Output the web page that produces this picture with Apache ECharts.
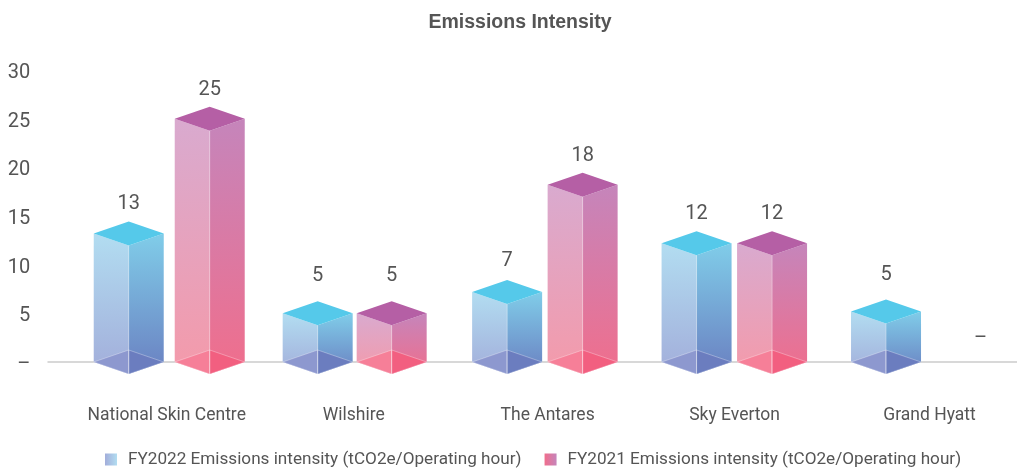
<!DOCTYPE html>
<html><head><meta charset="utf-8">
<style>html,body{margin:0;padding:0;background:#fff}#c{width:1017px;height:472px}</style>
<script src="https://cdn.jsdelivr.net/npm/echarts@6/dist/echarts.min.js"></script>
</head><body><div id="c"></div>
<script>
const title = 'Emissions Intensity';
const categories = ['National Skin Centre', 'Wilshire', 'The Antares', 'Sky Everton', 'Grand Hyatt'];
const fy2022Name = 'FY2022 Emissions intensity (tCO2e/Operating hour)';
const fy2021Name = 'FY2021 Emissions intensity (tCO2e/Operating hour)';
const fy2022 = [13.2, 5, 7.2, 12.2, 5.2];
const fy2021 = [25, 5, 18.2, 12.2, null];

const FONT = 'Roboto,"Liberation Sans",sans-serif';
const TEXT = '#555555';
const halfW = 35, halfH = 12;
// horizontal placement of each series' prism relative to the band centre, per category
const shiftA = [-38, -38, -37.5, -37, -36.5];
const shiftB = [43, 36, 38, 38.5, 58];
// distance of the value label above the prism's side corner
const liftA = [30, 37, 31, 29, 36];
const liftB = [29, 37, 29, 29, 23];
// horizontal nudge of the category labels from the band centre
const labelNudge = [0, -2, 3, 1, 7];

const paletteA = {tl:'#B2DDF1',bl:'#A2ADDA',tr:'#80CDE9',br:'#6A80C1',top:'#55C9EA',fl:'#8D98CF',fr:'#6B7DBF'};
const paletteB = {tl:'#D9AACF',bl:'#F49AAA',tr:'#C585BB',br:'#F06E8C',top:'#B55FA5',fl:'#F67F98',fr:'#F25F80'};

function vgrad(a,b){return {type:'linear',x:0,y:0,x2:0,y2:1,colorStops:[{offset:0,color:a},{offset:1,color:b}]};}
function hgrad(a,b){return {type:'linear',x:0,y:0,x2:1,y2:0,colorStops:[{offset:0,color:a},{offset:1,color:b}]};}

function prism(values, shifts, lifts, pal){
  return function(params, api){
    const i = api.value(0), raw = values[i];
    const base = api.coord([i, 0]);
    const cx = base[0] + shifts[i], y0 = base[1];
    const yv = api.coord([i, raw == null ? 0 : raw])[1];
    const line = {stroke:'rgba(255,255,255,0.45)', lineWidth:0.7};
    const kids = [];
    if (raw != null) {
      kids.push(
        {type:'polygon',shape:{points:[[cx-halfW,yv],[cx,yv+halfH],[cx,y0+halfH],[cx-halfW,y0]]},style:{fill:vgrad(pal.tl,pal.bl)}},
        {type:'polygon',shape:{points:[[cx,yv+halfH],[cx+halfW,yv],[cx+halfW,y0],[cx,y0+halfH]]},style:{fill:vgrad(pal.tr,pal.br)}},
        {type:'polygon',shape:{points:[[cx-halfW,y0],[cx,y0-halfH],[cx,y0+halfH]]},style:Object.assign({fill:pal.fl},line)},
        {type:'polygon',shape:{points:[[cx,y0-halfH],[cx+halfW,y0],[cx,y0+halfH]]},style:Object.assign({fill:pal.fr},line)},
        {type:'polygon',shape:{points:[[cx-halfW,yv],[cx,yv-halfH],[cx+halfW,yv],[cx,yv+halfH]]},style:{fill:pal.top}},
        {type:'line',shape:{x1:cx,y1:yv+halfH,x2:cx,y2:y0+halfH},style:line}
      );
    }
    kids.push({type:'text',style:{
      text: raw == null ? '–' : String(Math.round(raw)),
      x:cx, y:yv-lifts[i], align:'center', verticalAlign:'middle',
      font:'20px '+FONT, fill:TEXT}});
    return {type:'group',children:kids};
  };
}

function series(name, values, shifts, lifts, pal){
  return {name, type:'custom', xAxisIndex:0, yAxisIndex:0, clip:false, z:5,
    encode:{x:0,y:1},
    renderItem:prism(values, shifts, lifts, pal),
    data:values.map((v,i)=>[i, v == null ? 0 : v])};
}

const labelRich = {};
labelNudge.forEach((n,i)=>{
  labelRich['c'+i] = {fontFamily:FONT,fontSize:17.5,color:TEXT,
    padding:[0, n<0?-2*n:0, 0, n>0?2*n:0]};
});

const chart = echarts.init(document.getElementById('c'), null, {renderer:'canvas'});
chart.setOption({
  animation:false,
  backgroundColor:'#fff',
  title:{text:title,left:515,top:8,textAlign:'center',
    textStyle:{fontFamily:'"Liberation Sans",sans-serif',fontWeight:'bold',fontSize:19.5,color:TEXT}},
  legend:{left:100,top:446,itemWidth:12,itemHeight:12,itemGap:23,icon:'rect',
    textStyle:{fontFamily:FONT,fontSize:17.15,color:TEXT,padding:[0,0,0,6]},
    data:[
      {name:fy2022Name,itemStyle:{color:hgrad(paletteA.bl,paletteA.tl)}},
      {name:fy2021Name,itemStyle:{color:hgrad(paletteB.br,paletteB.tr)}}
    ]},
  grid:[
    {left:72.25,top:70,width:947.5,height:292},
    {left:48,top:70,width:969,height:292}
  ],
  xAxis:[
    {gridIndex:0,type:'category',data:categories,axisLine:{show:false},axisTick:{show:false},
      axisLabel:{margin:45,interval:0,rich:labelRich,
        formatter:(v,i)=>'{c'+i+'|'+v+'}'}},
    {gridIndex:1,type:'category',data:categories,axisLine:{show:true,lineStyle:{color:'#CCCCCC',width:1.5}},
      axisTick:{show:false},axisLabel:{show:false}}
  ],
  yAxis:[
    {gridIndex:0,type:'value',min:0,max:30,interval:5,splitLine:{show:false},axisLine:{show:false},axisTick:{show:false},
      axisLabel:{margin:42,rich:{t:{fontFamily:FONT,fontSize:20,color:TEXT,padding:[6,0,0,0]}},
        formatter:v=>'{t|'+(v===0?'–':String(v))+'}'}},
    {gridIndex:1,type:'value',min:0,max:30,interval:5,show:false}
  ],
  series:[
    series(fy2022Name, fy2022, shiftA, liftA, paletteA),
    series(fy2021Name, fy2021, shiftB, liftB, paletteB)
  ]
});
</script></body></html>
